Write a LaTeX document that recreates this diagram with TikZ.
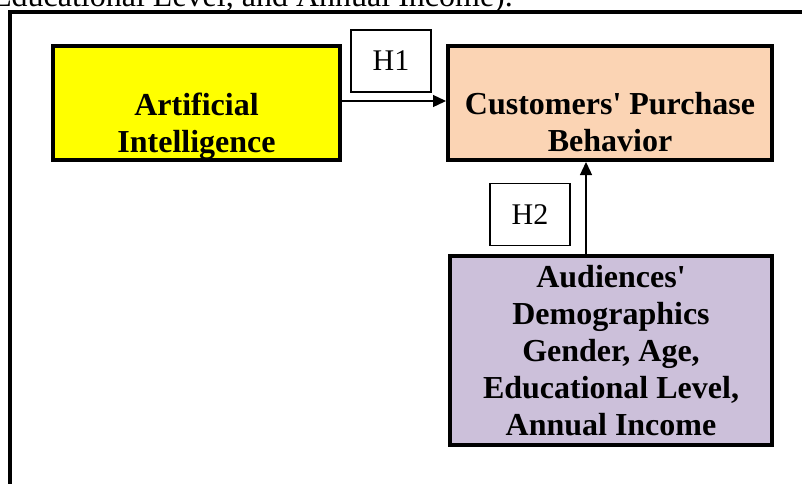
\documentclass[tikz,border=0pt]{standalone}
\usepackage{fontspec}
\setmainfont{Liberation Serif}
\usetikzlibrary{arrows.meta}
\definecolor{aiyellow}{HTML}{FFFF00}
\definecolor{cpbpeach}{HTML}{FBD4B4}
\definecolor{demolilac}{HTML}{CCC0DA}
\begin{document}
\begin{tikzpicture}[x=1pt,y=-1pt,
  conceptbox/.style={draw=black, line width=4pt, inner sep=0pt},
  concepttext/.style={align=center, inner sep=0pt,
    font=\fontsize{32}{37}\selectfont\bfseries},
  hyplabel/.style={draw=black, line width=1.1pt, minimum width=80pt,
    minimum height=62pt, inner sep=0pt, font=\fontsize{30}{34}\selectfont},
  hyparrow/.style={line width=1.3pt, -{Triangle[length=13pt,width=12pt]}},
]
\useasboundingbox (0,0) rectangle (802,483);
\clip (0,0) rectangle (802,483);

% running text above the frame
\node[anchor=base east, inner sep=0pt, font=\fontsize{32}{37}\selectfont]
  (caption) at (513,6) {Educational Level, and Annual Income).};

% outer frame
\draw[line width=4pt] (10,495) -- (10,12) -- (815,12);

% constructs: boxes
\node[conceptbox, fill=aiyellow, minimum width=287pt, minimum height=114pt]
  (ai) at (196.5,103) {};
\node[conceptbox, fill=cpbpeach, minimum width=324pt, minimum height=114pt]
  (cpb) at (610,103) {};
\node[conceptbox, fill=demolilac, minimum width=322pt, minimum height=189pt]
  (demo) at (611,350.5) {};

% constructs: labels (set low in the two upper boxes)
\node[concepttext] (aitext) at ([yshift=-23pt]ai.center)
  {Artificial\\Intelligence};
\node[concepttext] (cpbtext) at ([yshift=-19pt]cpb.center)
  {Customers\textquotesingle{} Purchase\\Behavior};
\node[concepttext] (demotext) at (demo.center)
  {Audiences\textquotesingle\\Demographics\\Gender, Age,\\Educational Level,\\Annual Income};

% hypotheses
\draw[hyparrow] ([yshift=2pt]ai.east) -- ([yshift=2pt]cpb.west);
\draw[hyparrow] ([xshift=-25pt]demo.north) -- ([xshift=-24pt]cpb.south);
\node[hyplabel] (h1) at (391,61) {H1};
\node[hyplabel] (h2) at (530,214.5) {H2};
\end{tikzpicture}
\end{document}
